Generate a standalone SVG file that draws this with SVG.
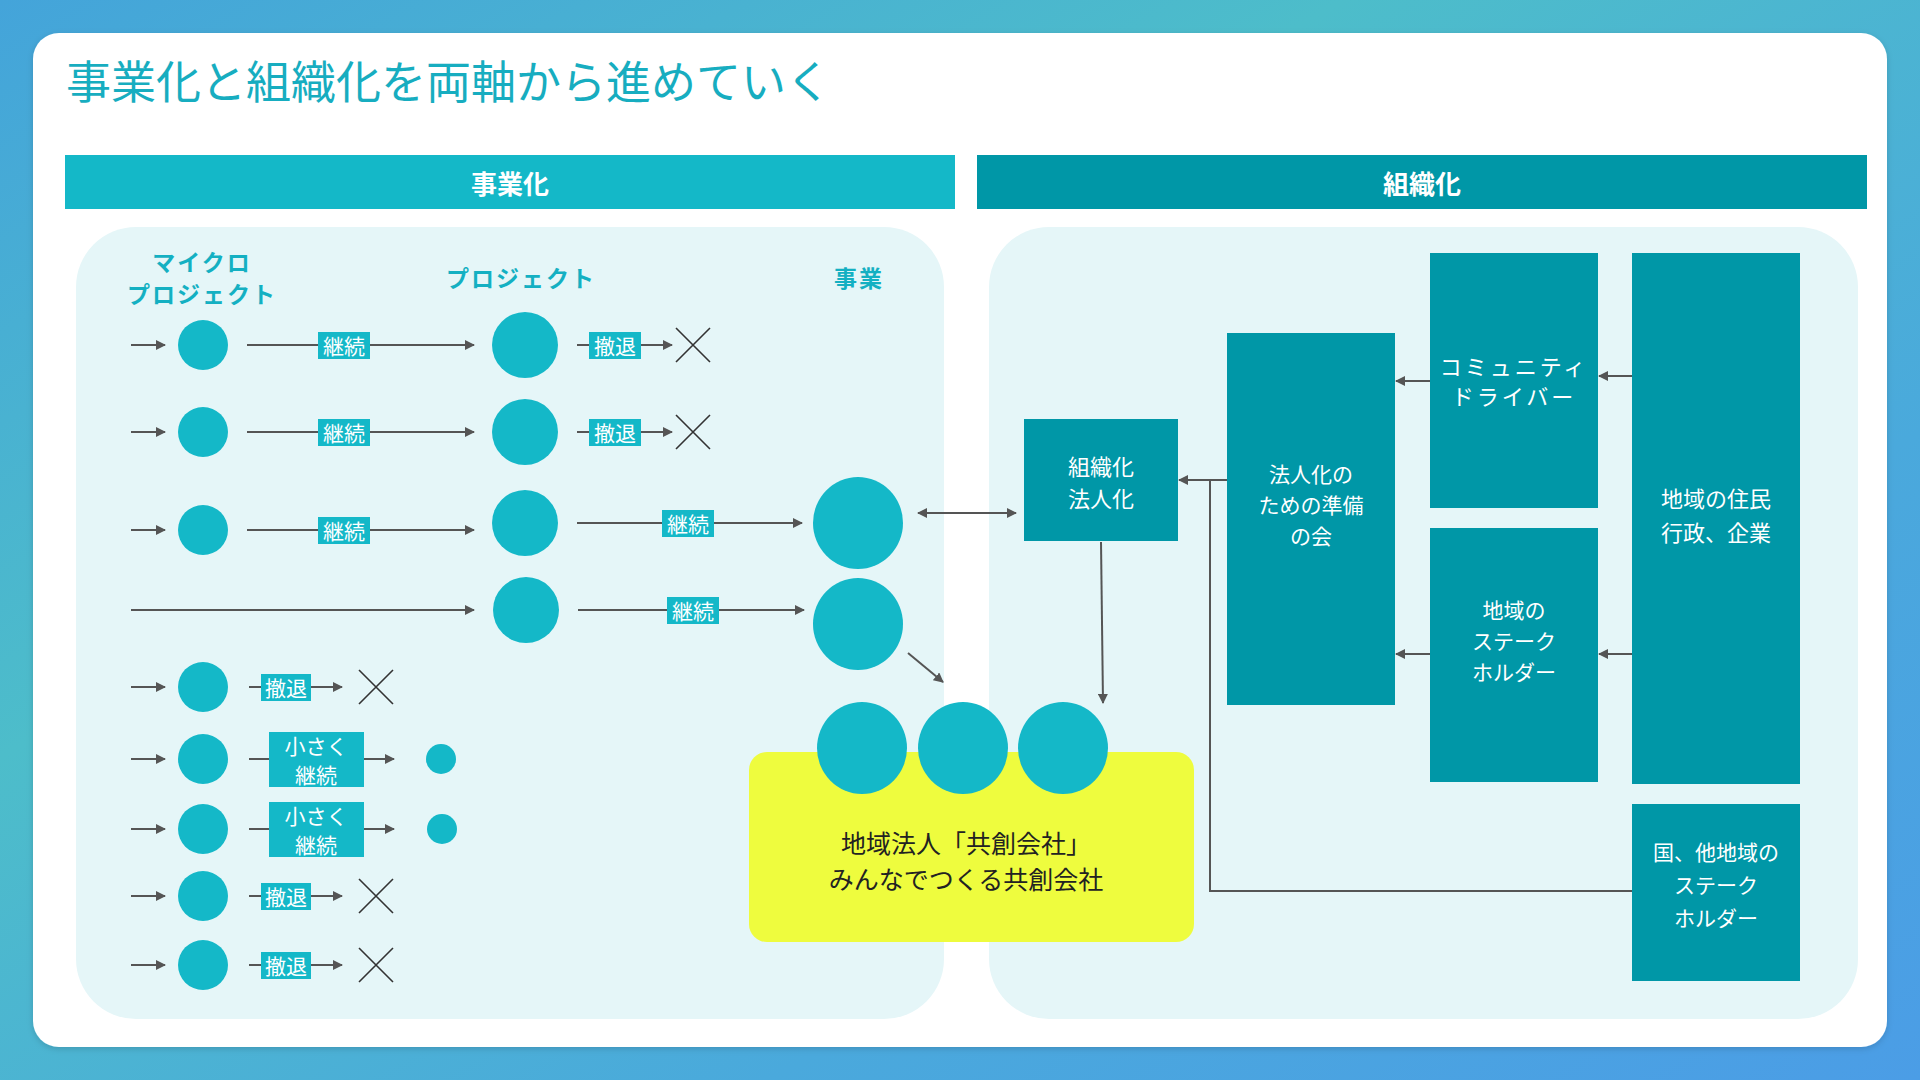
<svg xmlns="http://www.w3.org/2000/svg" width="1920" height="1080" viewBox="0 0 1920 1080">
<defs>
<linearGradient id="bg" x1="0" y1="0" x2="1" y2="1">
<stop offset="0" stop-color="#44a4da"/>
<stop offset="0.35" stop-color="#4dbdca"/>
<stop offset="0.7" stop-color="#4aa9dc"/>
<stop offset="1" stop-color="#4b9de6"/>
</linearGradient>
<filter id="sh" x="-5%" y="-5%" width="110%" height="110%"><feDropShadow dx="0" dy="2" stdDeviation="3" flood-color="#000" flood-opacity="0.15"/></filter>
<marker id="ah" viewBox="0 0 10 10" refX="9" refY="5" markerWidth="5" markerHeight="5" orient="auto-start-reverse"><path d="M0,0 L10,5 L0,10 z" fill="#555"/></marker>
<style>
.cjk{font-family:"Noto Sans CJK JP","Noto Sans",sans-serif}
.c{fill:#14b8c8}
.dk{fill:#0097a7}
.hd{font-size:26px;font-weight:bold;fill:#fff;text-anchor:middle;dominant-baseline:central}
.col{font-size:23px;font-weight:bold;fill:#14b0c2;text-anchor:middle;letter-spacing:2px;dominant-baseline:central}
.lb{fill:#14b8c8}
.lt{font-size:21px;fill:#fff;text-anchor:middle;dominant-baseline:central}
.bt{font-size:22px;fill:#fff;text-anchor:middle;dominant-baseline:central}
.bt3{font-size:21px;fill:#fff;text-anchor:middle;dominant-baseline:central}
.ln{stroke:#555;stroke-width:2;fill:none}
.ar{stroke:#555;stroke-width:2;fill:none;marker-end:url(#ah)}
.x{stroke:#333;stroke-width:1.6}
</style>
</defs>
<rect width="1920" height="1080" fill="url(#bg)"/>
<rect x="33" y="33" width="1854" height="1014" rx="26" fill="#fff" filter="url(#sh)"/>
<text x="66" y="99" class="cjk" font-size="45" fill="#17adc0">事業化と組織化を両軸から進めていく</text>

<g id="header-jigyo"><rect x="65" y="155" width="890" height="54" class="c"/><text x="510" y="182" class="cjk hd">事業化</text></g>
<g id="header-soshiki"><rect x="977" y="155" width="890" height="54" class="dk"/><text x="1422" y="182" class="cjk hd">組織化</text></g>

<rect x="76" y="227" width="868" height="792" rx="60" fill="#e5f6f8"/>
<rect x="989" y="227" width="869" height="792" rx="60" fill="#e5f6f8"/>

<g id="col-headers" class="cjk">
<text x="202" y="261" class="col">マイクロ</text>
<text x="202" y="293" class="col">プロジェクト</text>
<text x="521" y="277" class="col">プロジェクト</text>
<text x="859" y="277" class="col">事業</text>
</g>

<g id="connectors">
<line x1="131" y1="345" x2="165" y2="345" class="ar"/>
<line x1="131" y1="432" x2="165" y2="432" class="ar"/>
<line x1="131" y1="530" x2="165" y2="530" class="ar"/>
<line x1="131" y1="610" x2="474" y2="610" class="ar"/>
<line x1="131" y1="687" x2="165" y2="687" class="ar"/>
<line x1="131" y1="759" x2="165" y2="759" class="ar"/>
<line x1="131" y1="829" x2="165" y2="829" class="ar"/>
<line x1="131" y1="896" x2="165" y2="896" class="ar"/>
<line x1="131" y1="965" x2="165" y2="965" class="ar"/>
<line x1="247" y1="345" x2="474" y2="345" class="ar"/>
<line x1="247" y1="432" x2="474" y2="432" class="ar"/>
<line x1="247" y1="530" x2="474" y2="530" class="ar"/>
<line x1="577" y1="345" x2="672" y2="345" class="ar"/>
<line x1="577" y1="432" x2="672" y2="432" class="ar"/>
<line x1="577" y1="523" x2="802" y2="523" class="ar"/>
<line x1="578" y1="610" x2="804" y2="610" class="ar"/>
<line x1="249" y1="687" x2="342" y2="687" class="ar"/>
<line x1="249" y1="759" x2="394" y2="759" class="ar"/>
<line x1="249" y1="829" x2="394" y2="829" class="ar"/>
<line x1="249" y1="896" x2="342" y2="896" class="ar"/>
<line x1="249" y1="965" x2="342" y2="965" class="ar"/>
<line x1="918" y1="513" x2="1016" y2="513" class="ar" style="marker-start:url(#ah)"/>
<line x1="908" y1="653" x2="943" y2="682" class="ar"/>
<line x1="1101" y1="542" x2="1103" y2="703" class="ar"/>
<line x1="1632" y1="376" x2="1599" y2="376" class="ar"/>
<line x1="1632" y1="654" x2="1599" y2="654" class="ar"/>
<line x1="1430" y1="381" x2="1396" y2="381" class="ar"/>
<line x1="1430" y1="654" x2="1396" y2="654" class="ar"/>
<line x1="1227" y1="480" x2="1179" y2="480" class="ar"/>
<polyline points="1632,891 1210,891 1210,480" class="ln"/>
<path d="M676,328 L710,362 M710,328 L676,362" class="x"/>
<path d="M676,415 L710,449 M710,415 L676,449" class="x"/>
<path d="M359,670 L393,704 M393,670 L359,704" class="x"/>
<path d="M359,879 L393,913 M393,879 L359,913" class="x"/>
<path d="M359,948 L393,982 M393,948 L359,982" class="x"/>
</g>

<g id="labels" class="cjk">
<g><rect x="318" y="332" width="52" height="27" class="lb"/><text x="344" y="345" class="lt">継続</text></g>
<g><rect x="318" y="419" width="52" height="27" class="lb"/><text x="344" y="432" class="lt">継続</text></g>
<g><rect x="318" y="517" width="52" height="27" class="lb"/><text x="344" y="530" class="lt">継続</text></g>
<g><rect x="589" y="332" width="52" height="27" class="lb"/><text x="615" y="345" class="lt">撤退</text></g>
<g><rect x="589" y="419" width="52" height="27" class="lb"/><text x="615" y="432" class="lt">撤退</text></g>
<g><rect x="662" y="510" width="52" height="27" class="lb"/><text x="688" y="523" class="lt">継続</text></g>
<g><rect x="667" y="597" width="52" height="27" class="lb"/><text x="693" y="610" class="lt">継続</text></g>
<g><rect x="261" y="674" width="50" height="27" class="lb"/><text x="286" y="687" class="lt">撤退</text></g>
<g><rect x="269" y="732" width="95" height="55" class="lb"/><text x="316" y="745" class="lt">小さく</text><text x="316" y="774" class="lt">継続</text></g>
<g><rect x="269" y="802" width="95" height="55" class="lb"/><text x="316" y="815" class="lt">小さく</text><text x="316" y="844" class="lt">継続</text></g>
<g><rect x="261" y="883" width="50" height="27" class="lb"/><text x="286" y="896" class="lt">撤退</text></g>
<g><rect x="261" y="952" width="50" height="27" class="lb"/><text x="286" y="965" class="lt">撤退</text></g>
</g>

<g id="micro-circles">
<circle cx="203" cy="345" r="25" class="c"/>
<circle cx="203" cy="432" r="25" class="c"/>
<circle cx="203" cy="530" r="25" class="c"/>
<circle cx="203" cy="687" r="25" class="c"/>
<circle cx="203" cy="759" r="25" class="c"/>
<circle cx="203" cy="829" r="25" class="c"/>
<circle cx="203" cy="896" r="25" class="c"/>
<circle cx="203" cy="965" r="25" class="c"/>
</g>
<g id="project-circles">
<circle cx="525" cy="345" r="33" class="c"/>
<circle cx="525" cy="432" r="33" class="c"/>
<circle cx="525" cy="523" r="33" class="c"/>
<circle cx="526" cy="610" r="33" class="c"/>
</g>
<g id="small-circles">
<circle cx="441" cy="759" r="15" class="c"/>
<circle cx="442" cy="829" r="15" class="c"/>
</g>
<g id="business-circles">
<ellipse cx="858" cy="523" rx="45" ry="46" class="c"/>
<ellipse cx="858" cy="624" rx="45" ry="46" class="c"/>
</g>

<g id="kyoso-kaisha">
<rect x="749" y="752" width="445" height="190" rx="18" fill="#eefc3e"/>
<ellipse cx="862" cy="748" rx="45" ry="46" class="c"/>
<ellipse cx="963" cy="748" rx="45" ry="46" class="c"/>
<ellipse cx="1063" cy="748" rx="45" ry="46" class="c"/>
<text x="966" y="842" class="cjk" font-size="25" fill="#222" text-anchor="middle" dominant-baseline="central">地域法人「共創会社」</text>
<text x="966" y="878" class="cjk" font-size="25" fill="#222" text-anchor="middle" dominant-baseline="central">みんなでつくる共創会社</text>
</g>

<g id="soshiki-hojin" class="cjk"><rect x="1024" y="419" width="154" height="122" class="dk"/><text x="1101" y="465" class="bt">組織化</text><text x="1101" y="497" class="bt">法人化</text></g>
<g id="junbi" class="cjk"><rect x="1227" y="333" width="168" height="372" class="dk"/><text x="1311" y="473" class="bt3">法人化の</text><text x="1311" y="504" class="bt3">ための準備</text><text x="1311" y="535" class="bt3">の会</text></g>
<g id="community-driver" class="cjk"><rect x="1430" y="253" width="168" height="255" class="dk"/><text x="1514" y="365" class="bt" font-size="18" letter-spacing="3">コミュニティ</text><text x="1514" y="395" class="bt" font-size="18" letter-spacing="3">ドライバー</text></g>
<g id="local-stakeholder" class="cjk"><rect x="1430" y="528" width="168" height="254" class="dk"/><text x="1514" y="609" class="bt3">地域の</text><text x="1514" y="640" class="bt3">ステーク</text><text x="1514" y="671" class="bt3">ホルダー</text></g>
<g id="residents" class="cjk"><rect x="1632" y="253" width="168" height="531" class="dk"/><text x="1716" y="497" class="bt" font-size="23">地域の住民</text><text x="1716" y="531" class="bt" font-size="23">行政、企業</text></g>
<g id="national" class="cjk"><rect x="1632" y="804" width="168" height="177" class="dk"/><text x="1716" y="851" class="bt3">国、他地域の</text><text x="1716" y="884" class="bt3">ステーク</text><text x="1716" y="917" class="bt3">ホルダー</text></g>
</svg>
